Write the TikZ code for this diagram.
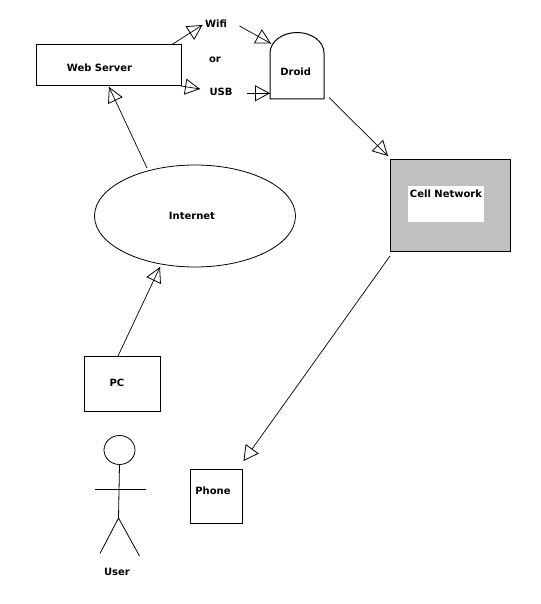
\documentclass[tikz,border=0pt]{standalone}
\usepackage{fontspec}
\setmainfont{DejaVu Sans}
\usepackage{xcolor}
\usetikzlibrary{arrows.meta,shapes.geometric,calc}
\definecolor{cellgrey}{RGB}{192,192,192}
\tikzset{
	boite/.style={draw,line width=1pt,inner sep=0pt},
	etiquette/.style={font=\bfseries\fontsize{10}{12}\selectfont,inner sep=0pt},
	fleche/.style={line width=0.7pt,-{Triangle[open,length=15pt,width=16pt,line width=0.8pt]}},
	trait/.style={line width=0.8pt}
}

\begin{document}
\begin{tikzpicture}[x=1pt,y=-1pt]
		\useasboundingbox (0,0) rectangle (540,604);
		% serveur et ses deux liaisons
		\node[boite,minimum width=145pt,minimum height=41pt] (webserver) at (109.2,65.5) {};
		\node[etiquette] (webtext) at (99.5,67.5) {Web Server};
		\node[etiquette] (wifi) at (216,23.5) {Wifi};
		\node[etiquette] (or) at (215,60) {or};
		\node[etiquette] (usb) at (221,91.5) {USB};
		% droid
		\draw[line width=1pt] (270,99) -- (270,53) arc (180:360:27 and 20.5) -- (324,99) -- cycle;
		\node[etiquette] (droid) at (295.7,71.5) {Droid};
		% cell network
		\node[boite,fill=cellgrey,minimum width=120pt,minimum height=92.5pt] (cell) at (450,205.5) {};
		\node[fill=white,minimum width=75.5pt,minimum height=36.5pt,inner sep=0pt] (cellblanc) at (446.2,204.2) {};
		\node[etiquette] (celltext) at (446,193.5) {Cell Network};
		% internet, pc, phone
		\node[draw,ellipse,line width=0.8pt,minimum width=201pt,minimum height=102pt,inner sep=0pt] (internet) at (195,216) {};
		\node[etiquette] (internettext) at (192,215.5) {Internet};
		\node[boite,minimum width=76pt,minimum height=55pt] (pc) at (122.5,383.5) {};
		\node[etiquette] (pctext) at (117,382.5) {PC};
		\node[boite,minimum width=52pt,minimum height=54pt] (phone) at (216,496) {};
		\node[etiquette] (phonetext) at (213,490.5) {Phone};
		% le bonhomme
		\node[draw,ellipse,line width=0.8pt,minimum width=31pt,minimum height=29pt,inner sep=0pt] (head) at (119.5,450) {};
		\coordinate (hanche) at (118.5,518);
		\draw[trait] (head.south) -- (hanche);
		\draw[trait] (95,489) -- (146,489);
		\draw[trait] (100,553.5) -- (hanche) -- (139.5,556);
		\node[etiquette] (user) at (117,571.5) {User};
		% les fleches
		\coordinate (a1) at (172,44.5);
		\coordinate (a2) at (202.5,25);
		\coordinate (b1) at (239.5,26);
		\coordinate (b2) at (271,43.5);
		\coordinate (c1) at (181,86);
		\coordinate (c2) at (200,89);
		\coordinate (d1) at (246.5,93.3);
		\coordinate (d2) at (270,93.3);
		\coordinate (e1) at (147,168);
		\coordinate (e2) at (109,87);
		\coordinate (f1) at (329,97.5);
		\coordinate (f2) at (388,156);
		\coordinate (g1) at (390,256);
		\coordinate (g2) at (243.5,461);
		\coordinate (h1) at (118,356);
		\coordinate (h2) at (160,267);
		\foreach \dep/\arr in {a1/a2,b1/b2,c1/c2,d1/d2,e1/e2,f1/f2,g1/g2,h1/h2}
			\draw[fleche] (\dep) -- (\arr);
		% le trait traverse la pointe, sauf vers phone
		\foreach \dep/\arr in {a1/a2,b1/b2,c1/c2,d1/d2,e1/e2,f1/f2,h1/h2}
			\draw[line width=0.7pt] ($(\arr)!15pt!(\dep)$) -- (\arr);
	\end{tikzpicture}
\end{document}
